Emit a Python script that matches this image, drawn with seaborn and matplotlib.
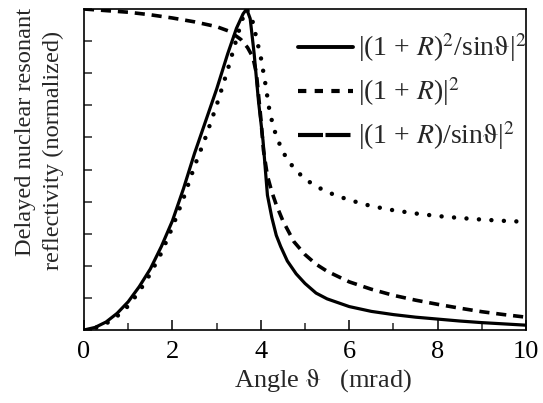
import matplotlib
matplotlib.use("Agg")
import matplotlib.pyplot as plt
import seaborn as sns
from matplotlib.lines import Line2D
from matplotlib.ticker import MultipleLocator, NullFormatter

# |(1+R)^2 / sin(theta)|^2
angle_a = [0.0, 0.25, 0.5, 0.75, 1.0, 1.25, 1.5, 1.75, 2.0, 2.25, 2.5, 2.75,
           3.0, 3.25, 3.45, 3.6, 3.68, 3.76, 3.85, 3.95, 4.05, 4.15, 4.25,
           4.35, 4.45, 4.6, 4.8, 5.0, 5.25, 5.5, 6.0, 6.5, 7.0, 7.5, 8.0,
           8.5, 9.0, 9.5, 10.0]
refl_a = [0.0, 0.008, 0.025, 0.052, 0.088, 0.135, 0.19, 0.26, 0.34, 0.44,
          0.55, 0.65, 0.75, 0.86, 0.94, 0.985, 1.0, 0.97, 0.86, 0.71, 0.59,
          0.42, 0.35, 0.295, 0.26, 0.215, 0.175, 0.145, 0.115, 0.097, 0.073,
          0.058, 0.048, 0.040, 0.034, 0.028, 0.023, 0.019, 0.015]

# |(1+R)|^2
angle_b = [0.0, 0.25, 0.5, 0.75, 1.0, 1.25, 1.5, 1.75, 2.0, 2.25, 2.5, 2.75,
           3.0, 3.25, 3.5, 3.6, 3.68, 3.8, 3.9, 4.0, 4.1, 4.2, 4.3, 4.45,
           4.6, 4.8, 5.0, 5.25, 5.5, 5.75, 6.0, 6.5, 7.0, 7.5, 8.0, 8.5,
           9.0, 9.5, 10.0]
refl_b = [0.0, 0.006, 0.02, 0.043, 0.075, 0.12, 0.175, 0.24, 0.32, 0.41,
          0.51, 0.60, 0.70, 0.81, 0.93, 0.975, 1.0, 0.97, 0.91, 0.85, 0.77,
          0.68, 0.625, 0.57, 0.53, 0.497, 0.47, 0.448, 0.43, 0.417, 0.405,
          0.386, 0.373, 0.363, 0.355, 0.349, 0.344, 0.34, 0.337]

# |(1+R)/sin(theta)|^2
angle_c = [0.0, 0.5, 1.0, 1.5, 2.0, 2.5, 3.0, 3.3, 3.55, 3.7, 3.82, 3.9, 4.0,
           4.06, 4.15, 4.25, 4.35, 4.5, 4.75, 5.0, 5.25, 5.5, 6.0, 6.5, 7.0,
           7.5, 8.0, 8.5, 9.0, 9.5, 10.0]
refl_c = [1.0, 0.995, 0.99, 0.982, 0.972, 0.96, 0.945, 0.93, 0.905, 0.88,
          0.85, 0.80, 0.66, 0.56, 0.48, 0.43, 0.39, 0.34, 0.275, 0.235, 0.205,
          0.183, 0.15, 0.127, 0.108, 0.093, 0.08, 0.068, 0.057, 0.048, 0.04]

labels = [r"|(1 + $R$)$^{2}$/sin$\mathrm{\vartheta}$|$^{2}$",
          r"|(1 + $R$)|$^{2}$",
          r"|(1 + $R$)/sin$\mathrm{\vartheta}$|$^{2}$"]

sns.set_style("ticks")
plt.rcParams["font.family"] = ["Liberation Serif", "DejaVu Serif"]
plt.rcParams["mathtext.fontset"] = "stix"

W, H = 543, 403
fig = plt.figure(figsize=(W / 100, H / 100), dpi=100)
ax = fig.add_axes([84 / W, 73 / H, 442 / W, 321 / H])

sns.lineplot(x=angle_a, y=refl_a, ax=ax, color="black", lw=2.3,
             estimator=None, sort=False)
sns.lineplot(x=angle_b, y=refl_b, ax=ax, color="black", lw=3.2,
             estimator=None, sort=False,
             linestyle=(0, (0.01, 2.8)), dash_capstyle="round")
sns.lineplot(x=angle_c, y=refl_c, ax=ax, color="black", lw=2.6,
             estimator=None, sort=False,
             linestyle=(0, (2.8, 1.9)), dash_capstyle="butt")

ax.set_xlim(0, 10)
ax.set_ylim(0, 1.0)
ax.xaxis.set_major_locator(MultipleLocator(2))
ax.xaxis.set_minor_locator(MultipleLocator(1))
ax.yaxis.set_major_locator(MultipleLocator(0.1))
ax.yaxis.set_major_formatter(NullFormatter())
ax.tick_params(axis="x", which="major", direction="in", length=7, width=1.1,
               labelsize=19, pad=8, colors="black")
ax.tick_params(axis="x", which="minor", direction="in", length=5, width=1.1)
ax.tick_params(axis="y", which="major", direction="in", length=6, width=1.1)
for sp in ax.spines.values():
    sp.set_visible(True)
    sp.set_linewidth(1.2)
    sp.set_color("black")

ax.set_xlabel(r"Angle $\mathrm{\vartheta}$   (mrad)", fontsize=19)
ax.xaxis.set_label_coords(0.54, -0.116)
ax.set_ylabel("")

fig.text(26 / W, 1 - 132 / H, "Delayed nuclear resonant", rotation=90,
         ha="center", va="center", fontsize=17.6)
fig.text(53 / W, 1 - 150 / H, "reflectivity (normalized)", rotation=90,
         ha="center", va="center", fontsize=17.6)

handles = [
    Line2D([], [], color="black", lw=2.8),
    Line2D([], [], color="black", lw=3.0, linestyle=(0, (2.0, 2.0))),
    Line2D([], [], color="black", lw=3.0,
           linestyle=(0, (6.0, 0.6, 6.0, 0.6, 1.2, 0.6))),
]
ax.legend(handles, labels, loc="upper right", bbox_to_anchor=(1.0, 0.93),
          frameon=False, fontsize=20, handlelength=2.0, handletextpad=0.15,
          labelspacing=0.4, borderaxespad=0.0, borderpad=0.0)

fig.savefig("out.png", dpi=100)
